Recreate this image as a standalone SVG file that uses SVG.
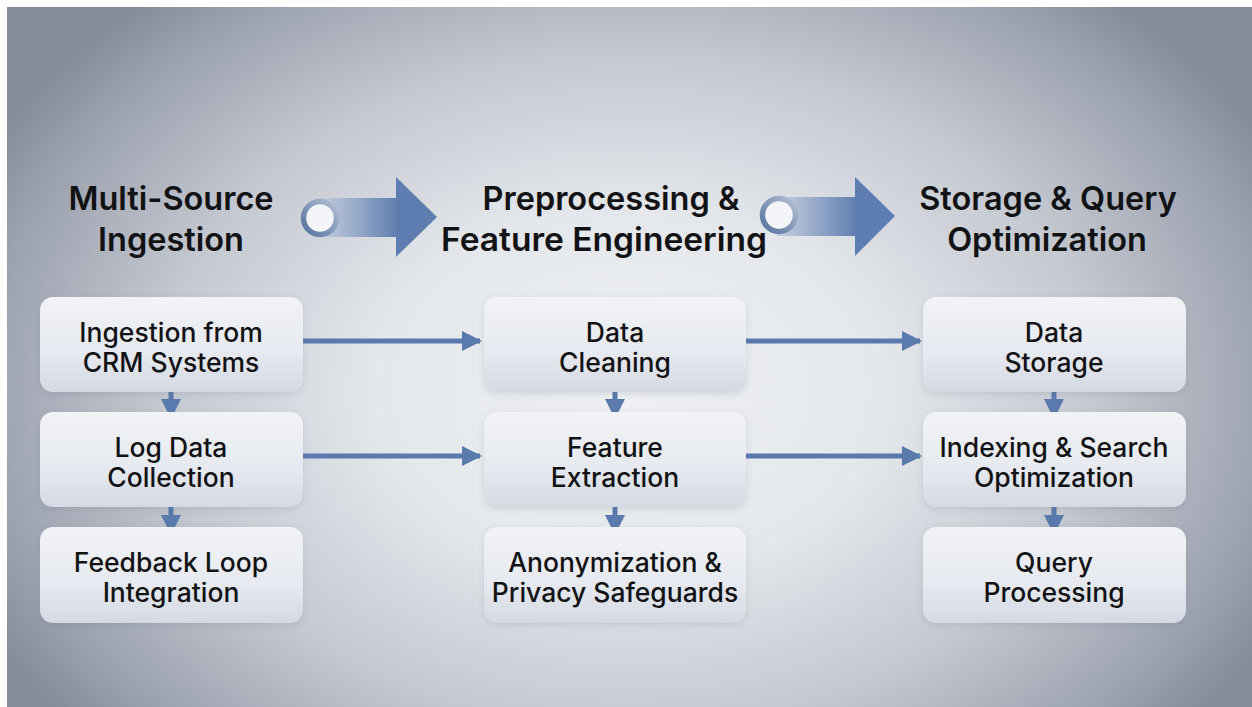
<svg xmlns="http://www.w3.org/2000/svg" width="1252" height="707" viewBox="0 0 1252 707">
<defs>
<radialGradient id="bg" cx="630" cy="390" r="720" gradientUnits="userSpaceOnUse" gradientTransform="translate(630 390) scale(1 0.72) translate(-630 -390)">
<stop offset="0" stop-color="#eef0f3"/>
<stop offset="0.35" stop-color="#e4e7eb"/>
<stop offset="0.65" stop-color="#c4c8d0"/>
<stop offset="0.9" stop-color="#9ca1af"/>
<stop offset="1" stop-color="#878d9c"/>
</radialGradient>
<linearGradient id="box" x1="0" y1="0" x2="0" y2="1">
<stop offset="0" stop-color="#f1f3f6"/>
<stop offset="0.6" stop-color="#e6e9ef"/>
<stop offset="1" stop-color="#d4d9e3"/>
</linearGradient>
<linearGradient id="shaft" x1="0" y1="0" x2="1" y2="0">
<stop offset="0" stop-color="#c7d0de"/>
<stop offset="0.5" stop-color="#95a8c8"/>
<stop offset="1" stop-color="#5f7eb0"/>
</linearGradient>
<linearGradient id="ring" x1="0" y1="1" x2="1" y2="0">
<stop offset="0" stop-color="#56729f"/>
<stop offset="1" stop-color="#b3c0d4"/>
</linearGradient>
<filter id="sh" x="-10%" y="-10%" width="120%" height="130%">
<feDropShadow dx="0" dy="2" stdDeviation="3" flood-color="#4a5468" flood-opacity="0.16"/>
</filter>
<marker id="ah" viewBox="0 0 10 10" refX="9" refY="5" markerWidth="4" markerHeight="4.4" orient="auto" markerUnits="strokeWidth">
<path d="M0,0 L10,5 L0,10 z" fill="#5a7aad"/>
</marker>
<style>
.box{fill:url(#box);filter:url(#sh);}
.t{font-family:Inter,"Noto Sans","Liberation Sans",sans-serif;font-weight:500;font-size:26.5px;fill:#111214;text-anchor:middle;}
.h{font-family:Inter,"Noto Sans","Liberation Sans",sans-serif;font-weight:600;font-size:32.5px;fill:#111214;text-anchor:middle;}
.c{stroke:#5a7aad;stroke-width:5;fill:none;marker-end:url(#ah);}
</style>
</defs>
<rect x="0" y="0" width="1252" height="707" fill="#ffffff"/>
<rect x="7" y="7" width="1245" height="700" fill="url(#bg)"/>

<g id="headers">
<g id="h1"><text class="h" x="171" y="210">Multi-Source</text><text class="h" x="171" y="251">Ingestion</text></g>
<g id="h2"><text class="h" x="611" y="210">Preprocessing &amp;</text><text class="h" x="604" y="251" textLength="326" lengthAdjust="spacingAndGlyphs">Feature Engineering</text></g>
<g id="h3"><text class="h" x="1048" y="210">Storage &amp; Query</text><text class="h" x="1047" y="251">Optimization</text></g>
</g>

<g id="stage-arrows">
<g id="sa1">
<rect x="318" y="198" width="80" height="39" fill="url(#shaft)"/>
<polygon points="396,177 437,217 396,257" fill="#5e7db0"/>
<circle cx="320" cy="218" r="16.5" fill="#f3f5f8" stroke="url(#ring)" stroke-width="5.5"/>
</g>
<g id="sa2">
<rect x="777" y="197" width="80" height="39" fill="url(#shaft)"/>
<polygon points="855,177 895,216 855,256" fill="#5e7db0"/>
<circle cx="779" cy="215" r="16.5" fill="#f3f5f8" stroke="url(#ring)" stroke-width="5.5"/>
</g>
</g>

<g id="connectors">
<line class="c" x1="303" y1="341" x2="480" y2="341"/>
<line class="c" x1="303" y1="456" x2="480" y2="456"/>
<line class="c" x1="746" y1="341" x2="920" y2="341"/>
<line class="c" x1="746" y1="456" x2="920" y2="456"/>
<line class="c" x1="171" y1="387" x2="171" y2="417"/>
<line class="c" x1="171" y1="502" x2="171" y2="533"/>
<line class="c" x1="615" y1="387" x2="615" y2="417"/>
<line class="c" x1="615" y1="502" x2="615" y2="533"/>
<line class="c" x1="1054" y1="387" x2="1054" y2="417"/>
<line class="c" x1="1054" y1="502" x2="1054" y2="533"/>
</g>

<g id="n1"><rect class="box" x="40" y="297" width="263" height="95" rx="13"/><text class="t" x="171" y="342">Ingestion from</text><text class="t" x="171" y="372">CRM Systems</text></g>
<g id="n2"><rect class="box" x="40" y="412" width="263" height="95" rx="13"/><text class="t" x="171" y="457">Log Data</text><text class="t" x="171" y="487">Collection</text></g>
<g id="n3"><rect class="box" x="40" y="527" width="263" height="96" rx="13"/><text class="t" x="171" y="572">Feedback Loop</text><text class="t" x="171" y="602">Integration</text></g>

<g id="n4"><rect class="box" x="484" y="297" width="262" height="95" rx="13"/><text class="t" x="615" y="342">Data</text><text class="t" x="615" y="372">Cleaning</text></g>
<g id="n5"><rect class="box" x="484" y="412" width="262" height="95" rx="13"/><text class="t" x="615" y="457">Feature</text><text class="t" x="615" y="487">Extraction</text></g>
<g id="n6"><rect class="box" x="484" y="527" width="262" height="96" rx="13"/><text class="t" x="615" y="572">Anonymization &amp;</text><text class="t" x="615" y="602">Privacy Safeguards</text></g>

<g id="n7"><rect class="box" x="923" y="297" width="263" height="95" rx="13"/><text class="t" x="1054" y="342">Data</text><text class="t" x="1054" y="372">Storage</text></g>
<g id="n8"><rect class="box" x="923" y="412" width="263" height="95" rx="13"/><text class="t" x="1054" y="457">Indexing &amp; Search</text><text class="t" x="1054" y="487">Optimization</text></g>
<g id="n9"><rect class="box" x="923" y="527" width="263" height="96" rx="13"/><text class="t" x="1054" y="572">Query</text><text class="t" x="1054" y="602">Processing</text></g>
</svg>
